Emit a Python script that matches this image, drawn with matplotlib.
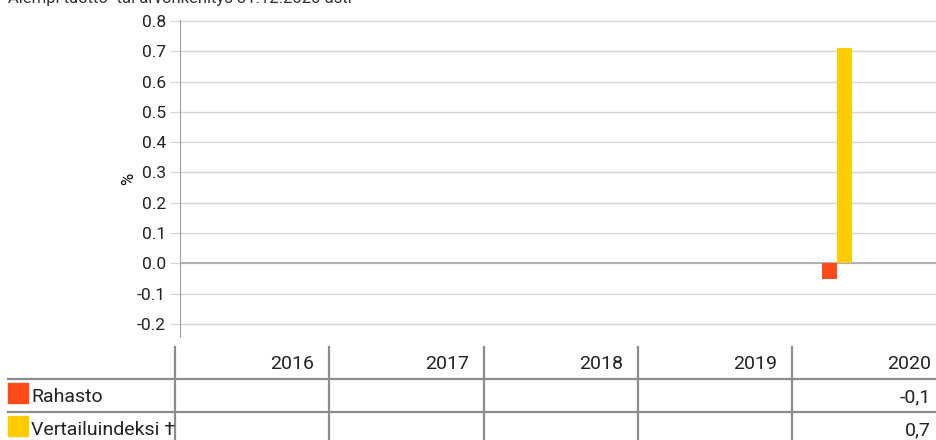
import matplotlib.pyplot as plt

plt.rcParams['font.family'] = ['Roboto', 'DejaVu Sans']

# data
years = ["2016", "2017", "2018", "2019", "2020"]
rahasto = [None, None, None, None, -0.05]
vertailu = [None, None, None, None, 0.71]
series_names = ["Rahasto", "Vertailuindeksi \u2020"]
series_colors = ["#ff4a1a", "#ffcc00"]
yticks = [-0.2, -0.1, 0.0, 0.1, 0.2, 0.3, 0.4, 0.5, 0.6, 0.7, 0.8]
title = "Aiempi tuotto- tai arvonkehitys 31.12.2020 asti"

W, H = 936, 440
fig = plt.figure(figsize=(W / 100, H / 100), dpi=100)


def fbox(x0, y0, x1, y1):
    # pixel box (top-left origin) -> figure fraction rect
    return [x0 / W, 1 - y1 / H, (x1 - x0) / W, (y1 - y0) / H]


ax = fig.add_axes(fbox(180, 20, 936, 337))
bw = 0.097
for k, vals in enumerate([rahasto, vertailu]):
    xs = [i for i, v in enumerate(vals) if v is not None]
    ys = [v for v in vals if v is not None]
    ax.bar([x + (k - 0.5) * bw for x in xs], ys, width=bw,
           color=series_colors[k], zorder=3)

ax.set_xlim(-0.266, 4.643)
ax.set_ylim(-0.243, 0.803)
ax.set_yticks(yticks)
ax.set_yticklabels([f"{t:.1f}" for t in yticks], fontsize=12.5, color="#222222")
ax.set_xticks([])
ax.grid(axis="y", color="#d6d6d6", linewidth=1, zorder=0)
ax.axhline(0, color="#a4a8ac", linewidth=1.2, zorder=2)
ax.tick_params(axis="y", length=7, color="#d6d6d6", pad=3)
for s in ["top", "right", "bottom"]:
    ax.spines[s].set_visible(False)
ax.spines["left"].set_color("#a0a0a0")
ax.set_ylabel("%", fontsize=12, rotation=90, labelpad=1)

# title, mostly cut off at the top edge
fig.text(8 / W, 1 - 3 / H, title, fontsize=12, color="#333333", va="baseline")

# table under the chart
tab = fig.add_axes([0, 0, 1, 1])
tab.set_xlim(0, W)
tab.set_ylim(H, 0)
tab.axis("off")
tab.patch.set_alpha(0)

line_c = "#8c8c8c"
col_edges = [175, 329, 484, 638, 792, 946]
for x in col_edges[:-1]:
    tab.plot([x, x], [347, 440], color=line_c, lw=1.6)
for y in [379, 412]:
    tab.plot([8, W], [y, y], color=line_c, lw=1.6)

for i, yr in enumerate(years):
    tab.text(col_edges[i + 1] - 15, 364, yr, ha="right", va="center",
             fontsize=14, color="#222222")

rows = [rahasto, vertailu]
row_mid = [396, 429]
for r, vals in enumerate(rows):
    tab.add_patch(plt.Rectangle((8, row_mid[r] - 13), 20, 20,
                                color=series_colors[r]))
    tab.text(31, row_mid[r] + 1, series_names[r], ha="left", va="center",
             fontsize=14, color="#222222")
    for i, v in enumerate(vals):
        if v is None:
            continue
        txt = f"{v:.1f}".replace(".", ",")
        tab.text(col_edges[i + 1] - 15, row_mid[r] + 1, txt, ha="right",
                 va="center", fontsize=14, color="#222222")

fig.savefig("out.png", dpi=100)
